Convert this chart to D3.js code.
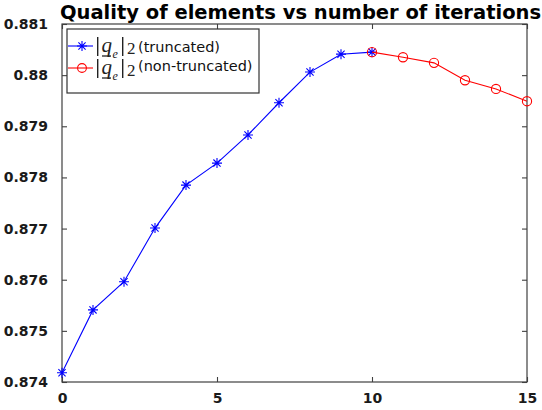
<!DOCTYPE html>
<html><head><meta charset="utf-8">
<script src="https://cdn.jsdelivr.net/npm/d3@7"></script>
<style>body{margin:0;background:#fff}svg{display:block}</style>
</head><body>
<svg id="c" width="542" height="410"></svg>
<script>
const title = "Quality of elements vs number of iterations";
const truncX = [0,1,2,3,4,5,6,7,8,9,10];
const truncY = [0.87418,0.87541,0.87596,0.87701,0.87785,0.87828,0.87883,0.87946,0.88006,0.88041,0.88045];
const nonTruncX = [10,11,12,13,14,15];
const nonTruncY = [0.88045,0.88035,0.88024,0.87990,0.87973,0.87949];
const xTicks = [0,5,10,15];
const yTicks = [0.874,0.875,0.876,0.877,0.878,0.879,0.880,0.881];
const yTickLabels = ["0.874","0.875","0.876","0.877","0.878","0.879","0.88","0.881"];
const legendLabels = ["(truncated)","(non-truncated)"];

const svg = d3.select("#c");
const L=62,R=527,T=24,B=382;
const x = d3.scaleLinear().domain([0,15]).range([L,R]);
const y = d3.scaleLinear().domain([0.874,0.881]).range([B,T]);
const axisColor="#404040";
const font="'DejaVu Sans', sans-serif";

svg.append("rect").attr("x",L).attr("y",T).attr("width",R-L).attr("height",B-T)
  .attr("fill","none").attr("stroke",axisColor).attr("stroke-width",1.2);

const gx = svg.append("g").attr("transform",`translate(0,${B})`)
  .call(d3.axisBottom(x).tickValues(xTicks).tickSize(-5).tickPadding(11).tickFormat(d3.format("d")));
const gxt = svg.append("g").attr("transform",`translate(0,${T})`)
  .call(d3.axisTop(x).tickValues(xTicks).tickSize(-5).tickFormat(""));
const gy = svg.append("g").attr("transform",`translate(${L},0)`)
  .call(d3.axisLeft(y).tickValues(yTicks).tickSize(-5).tickPadding(14).tickFormat((d,i)=>yTickLabels[i]));
const gyr = svg.append("g").attr("transform",`translate(${R},0)`)
  .call(d3.axisRight(y).tickValues(yTicks).tickSize(-5).tickFormat(""));
[gx,gxt,gy,gyr].forEach(g=>{
  g.select(".domain").remove();
  g.selectAll(".tick line").attr("stroke",axisColor).attr("stroke-width",1.1);
  g.selectAll(".tick text").attr("fill","#1a1a1a").style("font-family",font)
   .style("font-size","14px").style("font-weight","bold");
});

svg.append("text").attr("x",(L+R)/2+6).attr("y",19).attr("text-anchor","middle")
  .style("font-family",font).style("font-weight","bold").style("font-size","19.5px")
  .attr("fill","#000").text(title);

function star(g, cx, cy, r, color){
  const p = d3.path();
  p.moveTo(cx-r,cy); p.lineTo(cx+r,cy);
  p.moveTo(cx,cy-r); p.lineTo(cx,cy+r);
  const d=r*0.72;
  p.moveTo(cx-d,cy-d); p.lineTo(cx+d,cy+d);
  p.moveTo(cx-d,cy+d); p.lineTo(cx+d,cy-d);
  g.append("path").attr("d",p.toString()).attr("stroke",color).attr("stroke-width",1.1).attr("fill","none");
}

const line = d3.line().x(d=>x(d[0])).y(d=>y(d[1]));
const tData = truncX.map((v,i)=>[v,truncY[i]]);
const nData = nonTruncX.map((v,i)=>[v,nonTruncY[i]]);

svg.append("path").datum(tData).attr("d",line).attr("fill","none").attr("stroke","#0000ff").attr("stroke-width",1.1);
const gs = svg.append("g");
tData.forEach(d=>star(gs,x(d[0]),y(d[1]),5,"#0000ff"));

svg.append("path").datum(nData).attr("d",line).attr("fill","none").attr("stroke","#ff0000").attr("stroke-width",1.1);
svg.append("g").selectAll("circle").data(nData).join("circle")
  .attr("cx",d=>x(d[0])).attr("cy",d=>y(d[1])).attr("r",4.6)
  .attr("fill","none").attr("stroke","#ff0000").attr("stroke-width",1.1);

const lg = svg.append("g");
lg.append("rect").attr("x",67).attr("y",29).attr("width",192).attr("height",64)
  .attr("fill","#fff").attr("stroke","#333").attr("stroke-width",1.2);
const rows=[{y:46,color:"#0000ff",mk:"star"},{y:68,color:"#ff0000",mk:"circle"}];
const lserif="'Liberation Serif', serif";
rows.forEach((r,i)=>{
  lg.append("line").attr("x1",68).attr("x2",93).attr("y1",r.y).attr("y2",r.y).attr("stroke",r.color).attr("stroke-width",1.1);
  if(r.mk==="star") star(lg,82,r.y,5,r.color);
  else lg.append("circle").attr("cx",82).attr("cy",r.y).attr("r",4.4).attr("fill","none").attr("stroke",r.color).attr("stroke-width",1.1);
  const by = r.y+6;
  // math label |q_e|_2 built from separate glyphs
  lg.append("rect").attr("x",97).attr("y",by-15).attr("width",1.4).attr("height",19).attr("fill","#222");
  lg.append("text").attr("x",101.5).attr("y",by).style("font-family",lserif).style("font-style","italic").style("font-size","21px").attr("fill","#222").text("q");
  lg.append("line").attr("x1",102).attr("x2",111).attr("y1",by+4).attr("y2",by+4).attr("stroke","#222").attr("stroke-width",1.3);
  lg.append("text").attr("x",112.5).attr("y",by+6).style("font-family",lserif).style("font-style","italic").style("font-size","12px").attr("fill","#222").text("e");
  lg.append("rect").attr("x",122).attr("y",by-15).attr("width",1.4).attr("height",19).attr("fill","#222");
  lg.append("text").attr("x",127).attr("y",by+2).style("font-family",lserif).style("font-size","17px").attr("fill","#222").text("2");
  lg.append("text").attr("x",138).attr("y",by-(i===0?0:3)).style("font-family",font).style("font-size","14.5px").attr("fill","#111").text(legendLabels[i]);
});
</script>
</body></html>
